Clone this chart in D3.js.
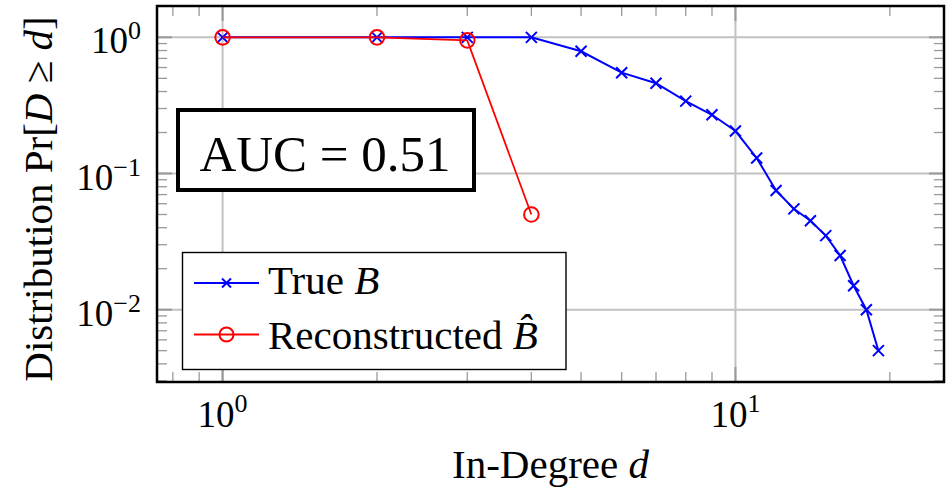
<!DOCTYPE html>
<html>
<head>
<meta charset="utf-8">
<script src="https://cdn.jsdelivr.net/npm/d3@7"></script>
<style>
  body { margin: 0; background: #fff; }
  text { font-family: "Liberation Serif", serif; fill: #000; }
</style>
</head>
<body>
<div id="chart"></div>
<script>

// chart data
const degrees = [1, 2, 3, 4, 5, 6, 7, 8, 9, 10, 11, 12, 13, 14, 15, 16, 17, 18, 19];
const trueB = [1, 1, 1, 1, 0.79, 0.55, 0.46, 0.34, 0.27, 0.205, 0.13, 0.075, 0.055, 0.045, 0.035, 0.025, 0.015, 0.01, 0.005];
const reconDegrees = [1, 2, 3, 4];
const reconB = [1, 1, 0.95, 0.05];

const xMajor = [1, 10];
const xMajorExp = ["0", "1"];
const yMajor = [1, 0.1, 0.01];
const yMajorExp = ["0", "\u22121", "\u22122"];
const aucText = "AUC = 0.51";

// sizes
const width = 946;
const height = 488;
const margin = {left: 157, right: 2, top: 6, bottom: 106};

const svg = d3.select("#chart")
  .append("svg")
  .attr("width", width)
  .attr("height", height);

// pgfplots style: log extents enlarged by 10%
function enlarged(values) {
  const lo = Math.log10(d3.min(values)), hi = Math.log10(d3.max(values));
  const pad = (hi - lo) * 0.1;
  return [Math.pow(10, lo - pad), Math.pow(10, hi + pad)];
}

const xScale = d3.scaleLog()
  .domain(enlarged(degrees))
  .range([margin.left, width - margin.right]);

const yScale = d3.scaleLog()
  .domain(enlarged(trueB))
  .range([height - margin.bottom, margin.top]);

const x0 = margin.left, x1 = width - margin.right;
const y0 = height - margin.bottom, y1 = margin.top;

// minor tick positions (2..9 in each decade, inside the range)
function minors(scale) {
  const [a, b] = scale.domain();
  const out = [];
  for (let e = Math.floor(Math.log10(a)); e <= Math.ceil(Math.log10(b)); e++) {
    for (let m = 2; m <= 9; m++) {
      const v = m * Math.pow(10, e);
      if (v >= a && v <= b) out.push(v);
    }
  }
  return out;
}

// grid
svg.append("g").selectAll("line")
  .data(xMajor).enter().append("line")
  .attr("x1", d => xScale(d)).attr("x2", d => xScale(d))
  .attr("y1", y0).attr("y2", y1)
  .attr("stroke", "#c2c2c2").attr("stroke-width", 2);

svg.append("g").selectAll("line")
  .data(yMajor).enter().append("line")
  .attr("y1", d => yScale(d)).attr("y2", d => yScale(d))
  .attr("x1", x0).attr("x2", x1)
  .attr("stroke", "#c2c2c2").attr("stroke-width", 2);

// inward ticks on all four sides
const ticks = svg.append("g").attr("stroke", "#9a9a9a");
minors(xScale).forEach(v => {
  ticks.append("line").attr("x1", xScale(v)).attr("x2", xScale(v)).attr("y1", y0).attr("y2", y0 - 10).attr("stroke-width", 1.3);
  ticks.append("line").attr("x1", xScale(v)).attr("x2", xScale(v)).attr("y1", y1).attr("y2", y1 + 10).attr("stroke-width", 1.3);
});
minors(yScale).forEach(v => {
  ticks.append("line").attr("y1", yScale(v)).attr("y2", yScale(v)).attr("x1", x0).attr("x2", x0 + 10).attr("stroke-width", 1.3);
  ticks.append("line").attr("y1", yScale(v)).attr("y2", yScale(v)).attr("x1", x1).attr("x2", x1 - 10).attr("stroke-width", 1.3);
});
xMajor.forEach(v => {
  ticks.append("line").attr("x1", xScale(v)).attr("x2", xScale(v)).attr("y1", y0).attr("y2", y0 - 15).attr("stroke-width", 2);
  ticks.append("line").attr("x1", xScale(v)).attr("x2", xScale(v)).attr("y1", y1).attr("y2", y1 + 15).attr("stroke-width", 2);
});
yMajor.forEach(v => {
  ticks.append("line").attr("y1", yScale(v)).attr("y2", yScale(v)).attr("x1", x0).attr("x2", x0 + 15).attr("stroke-width", 2);
  ticks.append("line").attr("y1", yScale(v)).attr("y2", yScale(v)).attr("x1", x1).attr("x2", x1 - 15).attr("stroke-width", 2);
});

// tick labels 10^k
xMajor.forEach((v, i) => {
  const t = svg.append("text")
    .attr("x", xScale(v)).attr("y", 427)
    .attr("text-anchor", "middle")
    .attr("font-size", "37px");
  t.append("tspan").text("10");
  t.append("tspan").attr("font-size", "26px").attr("dy", -15).text(xMajorExp[i]);
});
yMajor.forEach((v, i) => {
  const t = svg.append("text")
    .attr("x", 141).attr("y", yScale(v) + 16)
    .attr("text-anchor", "end")
    .attr("font-size", "37px");
  t.append("tspan").text("10");
  t.append("tspan").attr("font-size", "26px").attr("dy", -14).text(yMajorExp[i]);
});

// lines and markers
const line = d3.line()
  .x(d => xScale(d[0]))
  .y(d => yScale(d[1]));

const crossPath = s => `M${-s},${-s}L${s},${s}M${-s},${s}L${s},${-s}`;

const trueData = d3.zip(degrees, trueB);
const reconData = d3.zip(reconDegrees, reconB);

svg.append("path")
  .datum(trueData)
  .attr("d", line)
  .attr("fill", "none")
  .attr("stroke", "#0000ff")
  .attr("stroke-width", 2);

svg.selectAll(".cross")
  .data(trueData).enter().append("path")
  .attr("class", "cross")
  .attr("transform", d => `translate(${xScale(d[0])},${yScale(d[1])})`)
  .attr("d", crossPath(5.5))
  .attr("stroke", "#0000ff")
  .attr("stroke-width", 2);

svg.append("path")
  .datum(reconData)
  .attr("d", line)
  .attr("fill", "none")
  .attr("stroke", "#ff0000")
  .attr("stroke-width", 1.8);

svg.selectAll(".ring")
  .data(reconData).enter().append("circle")
  .attr("class", "ring")
  .attr("cx", d => xScale(d[0]))
  .attr("cy", d => yScale(d[1]))
  .attr("r", 7.3)
  .attr("fill", "none")
  .attr("stroke", "#ff0000")
  .attr("stroke-width", 2);

// frame
svg.append("rect")
  .attr("x", x0).attr("y", y1)
  .attr("width", x1 - x0).attr("height", y0 - y1)
  .attr("fill", "none")
  .attr("stroke", "#000")
  .attr("stroke-width", 2.5);

// AUC box
svg.append("rect")
  .attr("x", 178).attr("y", 110)
  .attr("width", 296).attr("height", 80)
  .attr("fill", "#fff")
  .attr("stroke", "#000")
  .attr("stroke-width", 4);
svg.append("text")
  .attr("x", 325).attr("y", 171)
  .attr("text-anchor", "middle")
  .attr("font-size", "51px")
  .text(aucText);

// legend
const legend = svg.append("g");
legend.append("rect")
  .attr("x", 182.5).attr("y", 252.5)
  .attr("width", 383.5).attr("height", 117)
  .attr("fill", "#fff")
  .attr("stroke", "#000")
  .attr("stroke-width", 1.4);

const rows = [
  {color: "#0000ff", y: 283, mark: "cross"},
  {color: "#ff0000", y: 334.5, mark: "ring"}
];
rows.forEach(r => {
  legend.append("line")
    .attr("x1", 194).attr("x2", 259)
    .attr("y1", r.y).attr("y2", r.y)
    .attr("stroke", r.color).attr("stroke-width", 2);
  if (r.mark === "cross") {
    legend.append("path")
      .attr("transform", `translate(226.5,${r.y})`)
      .attr("d", crossPath(4.5))
      .attr("stroke", r.color).attr("stroke-width", 2);
  } else {
    legend.append("circle")
      .attr("cx", 226.5).attr("cy", r.y).attr("r", 7)
      .attr("fill", "none")
      .attr("stroke", r.color).attr("stroke-width", 2);
  }
});

const t1 = legend.append("text").attr("x", 268).attr("y", 294).attr("font-size", "41px");
t1.append("tspan").text("True ");
t1.append("tspan").attr("font-style", "italic").text("B");

const t2 = legend.append("text").attr("x", 268).attr("y", 349).attr("font-size", "41px");
t2.append("tspan").text("Reconstructed ");
t2.append("tspan").attr("font-style", "italic").text("B\u0302");

// axis titles
svg.append("text")
  .attr("x", (x0 + x1) / 2).attr("y", 478)
  .attr("text-anchor", "middle")
  .attr("font-size", "41px")
  .call(t => {
    t.append("tspan").text("In-Degree ");
    t.append("tspan").attr("font-style", "italic").text("d");
  });

svg.append("text")
  .attr("transform", "translate(52,199) rotate(-90)")
  .attr("text-anchor", "middle")
  .attr("font-size", "41px")
  .call(t => {
    t.append("tspan").text("Distribution Pr[");
    t.append("tspan").attr("font-style", "italic").text("D");
    t.append("tspan").text(" \u2265 ");
    t.append("tspan").attr("font-style", "italic").text("d");
    t.append("tspan").text("]");
  });

</script>
</body>
</html>
